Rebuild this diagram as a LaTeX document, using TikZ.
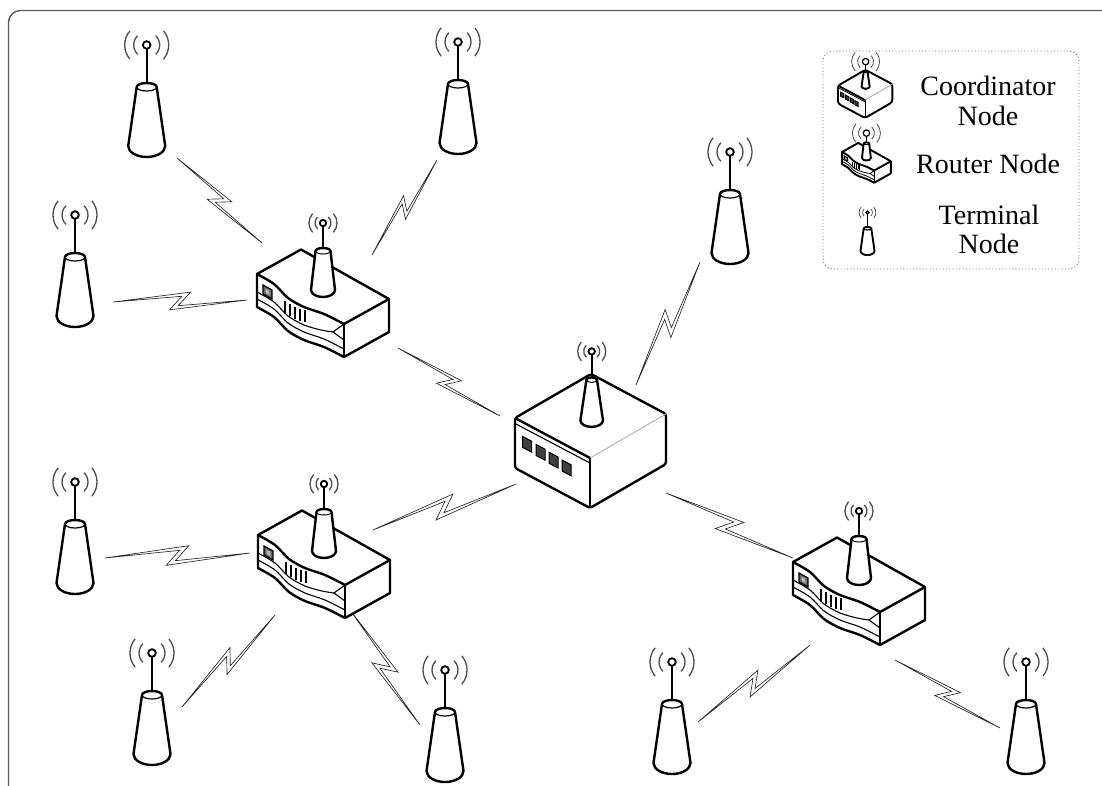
\documentclass[tikz,border=0pt]{standalone}
\usepackage{fontspec}
\setmainfont{Liberation Serif}
\usetikzlibrary{calc}

% lightning-bolt link between two named points
\newcommand\zapline[2]{%
  \draw[boltline] (#1)
    -- ($(#1)!0.58!(#2) + (#1)!0.065!90:(#2) - (#1)$)
    -- ($(#1)!0.485!(#2) + (#1)!0.035!-90:(#2) - (#1)$)
    -- (#2)
    -- ($(#1)!0.42!(#2) + (#1)!0.065!-90:(#2) - (#1)$)
    -- ($(#1)!0.515!(#2) + (#1)!0.035!90:(#2) - (#1)$)
    -- cycle;}

\tikzset{
  outline/.style={line width=2.4pt, line join=round},
  thinedge/.style={line width=1.1pt, line join=round},
  mast/.style={line width=2.2pt},
  tip/.style={line width=1.8pt, fill=white},
  waves/.style={black!70, line width=1.3pt},
  boltline/.style={draw=black!85, fill=white, line width=0.65pt, line join=miter},
  legendtext/.style={font=\fontsize{28}{30}\selectfont, inner sep=0pt, anchor=base},
  % end device: antenna over a tapered body
  terminal/.pic={
    \draw[waves] (46:13) arc[start angle=46, end angle=-46, radius=13];
    \draw[waves] (134:13) arc[start angle=134, end angle=226, radius=13];
    \draw[waves] (40:22) arc[start angle=40, end angle=-40, radius=22];
    \draw[waves] (140:22) arc[start angle=140, end angle=220, radius=22];
    \draw[mast] (0,3) -- (0,42);
    \draw[tip] (0,0) circle[radius=3.8];
    \draw[outline, fill=white] (-10,42) -- (-18.5,101)
      arc[start angle=180, end angle=0, x radius=18.5, y radius=11]
      -- (10,42) arc[start angle=0, end angle=-180, x radius=10, y radius=4] -- cycle;
    \draw[line width=1.2pt] (-10,42) arc[start angle=180, end angle=0, x radius=10, y radius=4];
  },
  % small antenna used on routers and the coordinator
  smallantenna/.pic={
    \draw[waves] (48:8) arc[start angle=48, end angle=-48, radius=8];
    \draw[waves] (132:8) arc[start angle=132, end angle=228, radius=8];
    \draw[waves] (42:14) arc[start angle=42, end angle=-42, radius=14];
    \draw[waves] (138:14) arc[start angle=138, end angle=222, radius=14];
    \draw[mast] (0,3) -- (0,28);
    \draw[tip] (0,0) circle[radius=3.2];
  },
  % router with curved front
  router/.pic={
    \draw[outline, fill=white] (0,0) -- (44,-24.5) -- (132,25) -- (132,58) -- (87,83)
      -- plot[smooth] coordinates {(87,83) (67,73) (47,66) (31,57) (17,43) (0,33)} -- cycle;
    \draw[outline] plot[smooth] coordinates {(0,0) (17,10) (31,24) (47,33) (67,40) (87,50)};
    \draw[outline] (87,50) -- (132,25);
    \draw[thinedge] (87,50) -- (87,83);
    \draw[thinedge] plot[smooth] coordinates {(0,18) (17,28) (31,42) (47,51) (64,56) (76,58)};
    \draw[thinedge] plot[smooth] coordinates {(0,25) (17,35) (31,49) (47,58) (67,65) (87,75)};
    \draw[thinedge] (87,50) -- (76,58) -- (87,66);
    \draw[line width=1.2pt, fill=black!60] (6,11) -- (15,16) -- (15,25) -- (6,20) -- cycle;
    \fill[black!30] (8.5,14.5) -- (12.5,16.8) -- (12.5,21.5) -- (8.5,19.2) -- cycle;
    \foreach \vx/\vy in {28/27,33/30,38/33,43/35,48/36}
      \draw[thinedge] (\vx,\vy) -- (\vx,\vy+12);
    \begin{scope}[shift={(66,-51)}]
      \pic {smallantenna};
      \draw[outline, fill=white] (-7.5,28) -- (-12,67)
        arc[start angle=180, end angle=0, x radius=12, y radius=7]
        -- (7.5,28) arc[start angle=0, end angle=-180, x radius=7.5, y radius=3] -- cycle;
      \draw[line width=1pt] (-7.5,28) arc[start angle=180, end angle=0, x radius=7.5, y radius=3];
    \end{scope}
  },
  % coordinator box with four status lights
  coordinator/.pic={
    \draw[outline, fill=white, rounded corners=2.5] (-75,-40) -- (1,-84) -- (76,-44)
      -- (76,6) -- (0,50) -- (-75,10) -- cycle;
    \draw[outline] (-75,-40) -- (0,0);
    \draw[thinedge] (-74,-34) -- (0,5);
    \draw[black!35, line width=0.8pt] (0,0) -- (76,-44);
    \draw[thinedge] (0,0) -- (0,50);
    \foreach \cx in {-63,-49.5,-36.5,-23.5}
      \draw[line width=1pt, fill=black!75]
        ({\cx-4.5},{0.6*\cx+24-5.5-2.4}) -- ({\cx+4.5},{0.6*\cx+24-5.5+2.4})
        -- ({\cx+4.5},{0.6*\cx+24+5.5+2.4}) -- ({\cx-4.5},{0.6*\cx+24+5.5-2.4}) -- cycle;
    \begin{scope}[shift={(1.7,-106.6)}]
      \pic {smallantenna};
      \draw[outline, fill=white] (-5.3,28.5) -- (-11.3,69)
        arc[start angle=180, end angle=0, x radius=11.3, y radius=6.5]
        -- (5.3,28.5) arc[start angle=0, end angle=-180, x radius=5.3, y radius=2.5] -- cycle;
      \draw[line width=1pt] (-5.3,28.5) arc[start angle=180, end angle=0, x radius=5.3, y radius=2.5];
    \end{scope}
  },
  % thinner strokes for the small legend symbols
  legendicon/.style={outline/.style={line width=1.9pt, line join=round},
    waves/.style={black!70, line width=0.8pt}, mast/.style={line width=1.6pt},
    tip/.style={line width=1.2pt, fill=white}, thinedge/.style={line width=0.8pt}},
}

\begin{document}
\begin{tikzpicture}[x=1pt, y=-1pt]
\useasboundingbox (0,0) rectangle (1102,785);
\fill[white] (0,0) rectangle (1102,785);

% frame
\draw[black!65, line width=1.4pt, rounded corners=12] (8.5,800) -- (8.5,10.5) -- (1115,10.5);

% device positions
\coordinate (t1) at (146.7,45);
\coordinate (t2) at (458,42);
\coordinate (t3) at (75,215);
\coordinate (t4) at (730,152);
\coordinate (t5) at (75,482);
\coordinate (t6) at (152,653);
\coordinate (t7) at (445,670);
\coordinate (t8) at (672,662);
\coordinate (t9) at (1026,662);
\coordinate (r1) at (257,274);
\coordinate (r2) at (258,535);
\coordinate (r3) at (793,562);
\coordinate (co) at (590,458);

% wireless link end points
\coordinate (t1r1) at (177,158);  \coordinate (r1t1) at (262,243);
\coordinate (t2r1) at (437,160);  \coordinate (r1t2) at (372,255);
\coordinate (t3r1) at (113,302);  \coordinate (r1t3) at (247,300);
\coordinate (r1co) at (398,348);  \coordinate (cor1) at (500,416);
\coordinate (t4co) at (700,262);  \coordinate (cot4) at (636,385);
\coordinate (t5r2) at (105,558);  \coordinate (r2t5) at (250,553);
\coordinate (r2co) at (373,530);  \coordinate (cor2) at (516,484);
\coordinate (cor3) at (666,493);  \coordinate (r3co) at (793,558);
\coordinate (r2t6) at (275,615);  \coordinate (t6r2) at (182,707);
\coordinate (r2t7) at (350,610);  \coordinate (t7r2) at (420,725);
\coordinate (r3t8) at (810,645);  \coordinate (t8r3) at (698,722);
\coordinate (r3t9) at (895,660);  \coordinate (t9r3) at (1000,728);

% wireless links
\zapline{t1r1}{r1t1}
\zapline{t2r1}{r1t2}
\zapline{t3r1}{r1t3}
\zapline{r1co}{cor1}
\zapline{t4co}{cot4}
\zapline{t5r2}{r2t5}
\zapline{r2co}{cor2}
\zapline{cor3}{r3co}
\zapline{r2t6}{t6r2}
\zapline{r2t7}{t7r2}
\zapline{r3t8}{t8r3}
\zapline{r3t9}{t9r3}

% devices
\foreach \t in {t1,t2,t3,t4,t5,t6,t7,t8,t9}
  \pic at (\t) {terminal};
\foreach \r in {r1,r2,r3}
  \pic at (\r) {router};
\pic at (co) {coordinator};

% legend
\draw[black!60, line width=0.9pt, dash pattern=on 0.9pt off 2.4pt, rounded corners=10]
  (823,51) rectangle (1079,269);
\coordinate (lgco) at (865,100);
\coordinate (lgro) at (842,152);
\coordinate (lgte) at (867.5,212.5);
\pic[legendicon, scale=0.36] at (lgco) {coordinator};
\pic[legendicon, scale=0.37] at (lgro) {router};
\pic[legendicon, scale=0.38] at (lgte) {terminal};
\node[legendtext] (lgc1) at (988,95.8) {Coordinator};
\node[legendtext] (lgc2) at (988,125.5) {Node};
\node[legendtext] (lgr) at (988,173.5) {Router Node};
\node[legendtext] (lgt1) at (989,224) {Terminal};
\node[legendtext] (lgt2) at (989,253.5) {Node};
\end{tikzpicture}
\end{document}
